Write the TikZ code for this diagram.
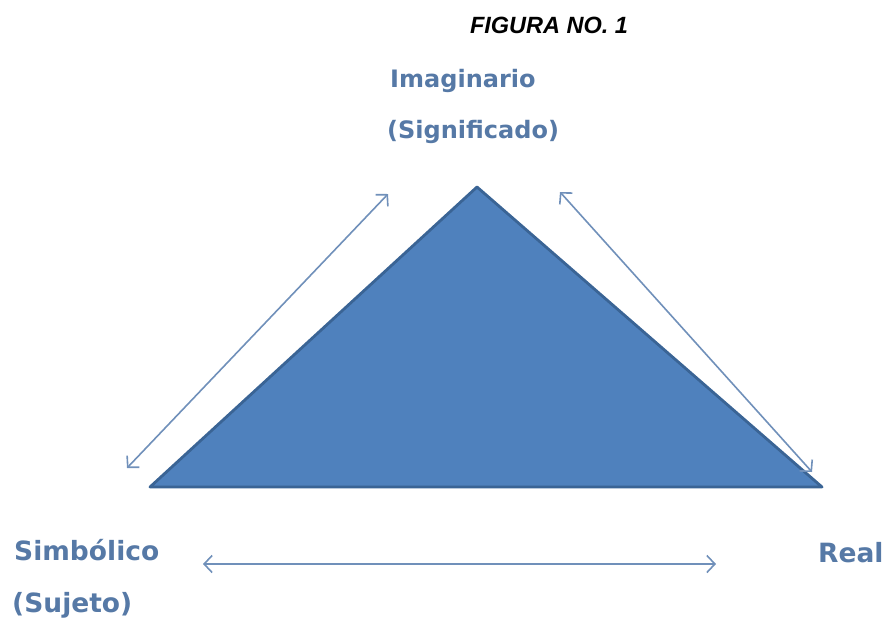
\documentclass[tikz,border=0pt]{standalone}
\usepackage{fontspec}
\setmainfont{Liberation Sans}
\newfontfamily\labelfont{DejaVu Sans}
\usetikzlibrary{arrows.meta}
\definecolor{trifill}{HTML}{4F81BD}
\definecolor{triedge}{HTML}{3A6495}
\definecolor{lbltext}{HTML}{5679A6}
\definecolor{arrline}{HTML}{7090BA}
\tikzset{
  toplabel/.style={text=lbltext,font=\labelfont\bfseries\fontsize{24}{28}\selectfont,inner sep=0pt},
  botlabel/.style={text=lbltext,font=\labelfont\bfseries\fontsize{26.5}{30}\selectfont,inner sep=0pt},
  link/.style={draw=arrline,line width=1.6pt,{Straight Barb[length=8pt,width=17pt]}-{Straight Barb[length=8pt,width=17pt]}}
}
\begin{document}
\begin{tikzpicture}[x=1pt,y=-1pt,line join=round,line cap=round]
	\useasboundingbox (0,0) rectangle (886,622);
	% triangle
	\coordinate (apex) at (477,187);
	\coordinate (left) at (150,487);
	\coordinate (right) at (822,487);
	\filldraw[fill=trifill,draw=triedge,line width=2.8pt] (apex)--(right)--(left)--cycle;
	% title and labels
	\node[font=\bfseries\itshape\fontsize{23.5}{27}\selectfont,inner sep=0pt] (title) at (549,25) {FIGURA NO. 1};
	\node[toplabel,anchor=west] (imag) at (390,81) {Imaginario};
	\node[toplabel,anchor=west] (signif) at (387,132) {(Significado)};
	\node[botlabel,anchor=west] (simb) at (14,550) {Simbólico};
	\node[botlabel,anchor=west] (suj) at (12,605) {(Sujeto)};
	\node[botlabel,anchor=west] (real) at (818,553) {Real};
	% arrows
	\coordinate (a1) at (127,468);
	\coordinate (a2) at (388,194);
	\coordinate (b1) at (560,192);
	\coordinate (b2) at (812,472);
	\coordinate (c1) at (203,564);
	\coordinate (c2) at (716,564);
	\draw[link] (a1)--(a2);
	\draw[link] (b1)--(b2);
	\draw[link] (c1)--(c2);
\end{tikzpicture}
\end{document}
